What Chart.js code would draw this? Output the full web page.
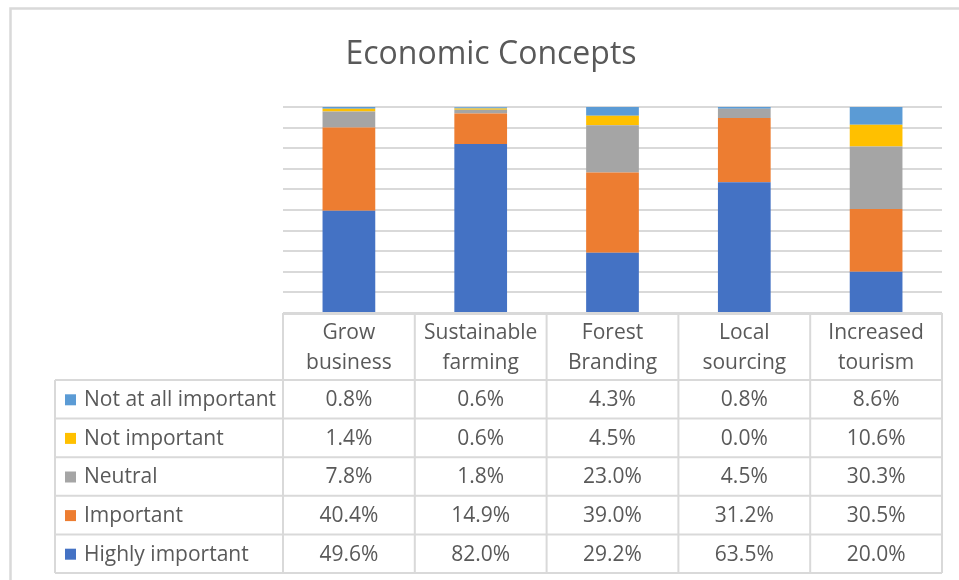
<!DOCTYPE html>
<html>
<head>
<meta charset="utf-8">
<script src="https://cdn.jsdelivr.net/npm/chart.js@4.4.1/dist/chart.umd.min.js"></script>
<style>
  html, body { margin: 0; padding: 0; background: #fff; }
  #wrap { width: 959px; height: 580px; position: relative; }
</style>
</head>
<body>
<div id="wrap"><canvas id="myChart" width="959" height="580"></canvas></div>
<script>
// categories and their two-line header text
let concepts = ['Grow business', 'Sustainable farming', 'Forest Branding', 'Local sourcing', 'Increased tourism'];
let headerlines = [['Grow', 'business'], ['Sustainable', 'farming'], ['Forest', 'Branding'], ['Local', 'sourcing'], ['Increased', 'tourism']];

// percent of answers per rating
let highlyimportant = [49.6, 82.0, 29.2, 63.5, 20.0];
let important = [40.4, 14.9, 39.0, 31.2, 30.5];
let neutral = [7.8, 1.8, 23.0, 4.5, 30.3];
let notimportant = [1.4, 0.6, 4.5, 0.0, 10.6];
let notatall = [0.8, 0.6, 4.3, 0.8, 8.6];

let titletext = 'Economic Concepts';
let gridcolor = '#d9d9d9';
let textcolor = '#595959';
let fontname = '"Open Sans", sans-serif';

// data table rows, top to bottom
let tablerows = [
  { label: 'Not at all important', color: '#5B9BD5', data: notatall },
  { label: 'Not important', color: '#FFC000', data: notimportant },
  { label: 'Neutral', color: '#A5A5A5', data: neutral },
  { label: 'Important', color: '#ED7D31', data: important },
  { label: 'Highly important', color: '#4472C4', data: highlyimportant }
];

// stacked from the bottom up, so reverse the table order
let datasets = tablerows.slice().reverse().map(r => ({
  label: r.label,
  data: r.data,
  backgroundColor: r.color,
  borderWidth: 0,
  categoryPercentage: 1,
  barPercentage: 0.4
}));

// draws the frame, the title and the data table under the bars
let tableplugin = {
  id: 'datatable',
  afterDraw(chart) {
    let ctx = chart.ctx;
    let xs = chart.scales.x;
    let area = chart.chartArea;
    let colw = xs.width / concepts.length;
    let headtop = area.bottom + 1;
    let headbottom = 380;
    let rowh = 38.6;
    let left = 55;

    ctx.save();
    // outer frame (top and left edges)
    ctx.strokeStyle = gridcolor;
    ctx.lineWidth = 2.5;
    ctx.beginPath();
    ctx.moveTo(959, 8.5);
    ctx.lineTo(10.5, 8.5);
    ctx.lineTo(10.5, 580);
    ctx.stroke();

    // title
    ctx.fillStyle = textcolor;
    ctx.font = '32px ' + fontname;
    ctx.textAlign = 'center';
    ctx.textBaseline = 'middle';
    ctx.fillText(titletext, 491, 55);

    // table lines
    ctx.lineWidth = 2;
    ctx.strokeStyle = gridcolor;
    ctx.beginPath();
    // header box
    ctx.moveTo(area.left, headbottom);
    ctx.lineTo(area.left, headtop);
    ctx.lineTo(area.right, headtop);
    ctx.lineTo(area.right, headbottom);
    for (let i = 1; i < concepts.length; i++) {
      let x = area.left + colw * i;
      ctx.moveTo(x, headtop);
      ctx.lineTo(x, headbottom);
    }
    // body rows
    for (let r = 0; r <= tablerows.length; r++) {
      let y = headbottom + rowh * r;
      ctx.moveTo(left, y);
      ctx.lineTo(area.right, y);
    }
    let tablebottom = headbottom + rowh * tablerows.length;
    ctx.moveTo(left, headbottom);
    ctx.lineTo(left, tablebottom);
    for (let i = 0; i <= concepts.length; i++) {
      let x = area.left + colw * i;
      ctx.moveTo(x, headbottom);
      ctx.lineTo(x, tablebottom);
    }
    ctx.stroke();

    // header text
    ctx.font = '21px ' + fontname;
    ctx.fillStyle = textcolor;
    ctx.textAlign = 'center';
    for (let i = 0; i < concepts.length; i++) {
      let cx = xs.getPixelForValue(i);
      ctx.fillText(headerlines[i][0], cx, 333);
      ctx.fillText(headerlines[i][1], cx, 363);
    }

    // body text with legend keys
    for (let r = 0; r < tablerows.length; r++) {
      let cy = headbottom + rowh * r + rowh / 2 + 1;
      ctx.fillStyle = tablerows[r].color;
      ctx.fillRect(65, cy - 6, 11, 11);
      ctx.fillStyle = textcolor;
      ctx.textAlign = 'left';
      ctx.fillText(tablerows[r].label, 84, cy);
      ctx.textAlign = 'center';
      for (let i = 0; i < concepts.length; i++) {
        ctx.fillText(tablerows[r].data[i].toFixed(1) + '%', xs.getPixelForValue(i), cy);
      }
    }
    ctx.restore();
  }
};

let ctx = document.getElementById('myChart').getContext('2d');
let chart = new Chart(ctx, {
  type: 'bar',
  data: {
    labels: concepts,
    datasets: datasets
  },
  options: {
    responsive: false,
    animation: false,
    layout: { padding: { left: 283, right: 17, top: 107, bottom: 267 } },
    plugins: {
      legend: { display: false },
      title: { display: false },
      tooltip: { enabled: false }
    },
    scales: {
      x: {
        stacked: true,
        grid: { display: false },
        border: { display: false },
        ticks: { display: false },
        afterFit: s => { s.height = 0; }
      },
      y: {
        stacked: true,
        min: 0,
        max: 100,
        ticks: { display: false, stepSize: 10 },
        grid: { color: gridcolor, lineWidth: 2, drawTicks: false },
        border: { display: false },
        afterFit: s => { s.width = 0; }
      }
    }
  },
  plugins: [tableplugin]
});
</script>
</body>
</html>
